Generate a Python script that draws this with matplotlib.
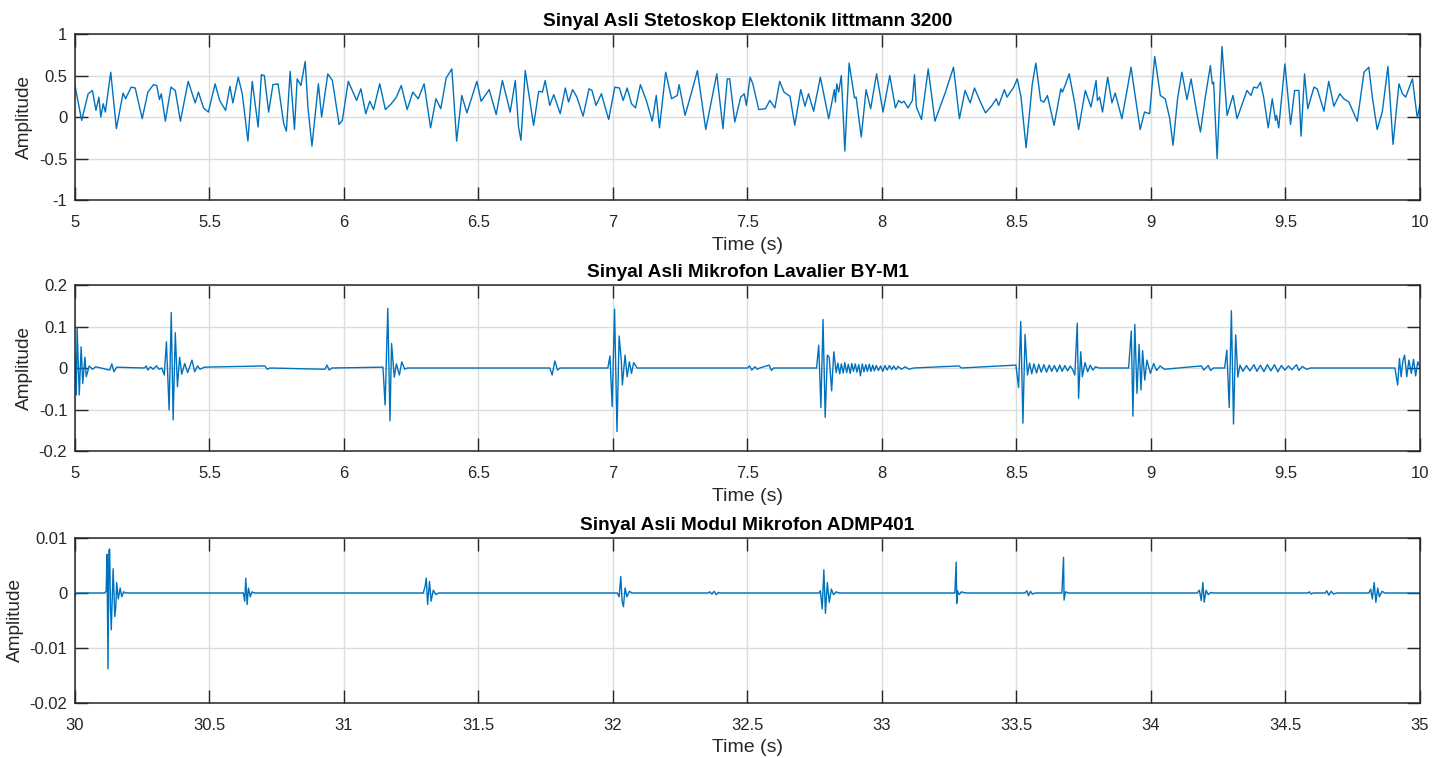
import matplotlib
matplotlib.use('Agg')
import matplotlib.pyplot as plt

# ---- data (time [s], amplitude) ----
# Stetoskop Littmann 3200, split per second
steto_5_6 = [(5.000, 0.38), (5.025, -0.04), (5.049, 0.28), (5.065, 0.32), (5.078, 0.08), (5.089, 0.24),
             (5.096, 0.00), (5.105, 0.16), (5.113, 0.06), (5.133, 0.54), (5.154, -0.14), (5.179, 0.29),
             (5.188, 0.22), (5.209, 0.36), (5.224, 0.35), (5.250, -0.02), (5.271, 0.30), (5.292, 0.39),
             (5.304, 0.38), (5.314, 0.21), (5.321, 0.28), (5.336, -0.05), (5.357, 0.36), (5.373, 0.32),
             (5.392, -0.05), (5.421, 0.43), (5.447, 0.17), (5.459, 0.30), (5.478, 0.11), (5.496, 0.06),
             (5.521, 0.40), (5.538, 0.20), (5.560, 0.08), (5.576, 0.37), (5.587, 0.17), (5.607, 0.48),
             (5.622, 0.28), (5.643, -0.29), (5.659, 0.43), (5.681, -0.12), (5.693, 0.51), (5.704, 0.50),
             (5.720, 0.06), (5.736, 0.39), (5.755, 0.40), (5.776, -0.08), (5.786, -0.17), (5.800, 0.55),
             (5.816, -0.15), (5.826, 0.46), (5.840, 0.38), (5.856, 0.67), (5.866, 0.12), (5.881, -0.35),
             (5.905, 0.40), (5.917, 0.00), (5.940, 0.52), (5.957, 0.44), (5.982, -0.09), (5.994, -0.04)]
steto_6_7 = [(6.016, 0.43), (6.047, 0.20), (6.063, 0.34), (6.081, 0.04), (6.096, 0.19), (6.110, 0.09),
             (6.133, 0.40), (6.154, 0.09), (6.176, 0.16), (6.195, 0.24), (6.213, 0.38), (6.235, 0.09),
             (6.256, 0.30), (6.276, 0.22), (6.298, 0.40), (6.322, -0.13), (6.342, 0.22), (6.360, 0.10),
             (6.380, 0.47), (6.401, 0.58), (6.419, -0.29), (6.438, 0.26), (6.457, 0.05), (6.494, 0.43),
             (6.510, 0.19), (6.540, 0.33), (6.566, 0.03), (6.589, 0.44), (6.618, 0.06), (6.637, 0.44),
             (6.649, -0.12), (6.658, -0.28), (6.674, 0.56), (6.705, -0.10), (6.724, 0.31), (6.738, 0.30),
             (6.748, 0.44), (6.765, 0.14), (6.780, 0.27), (6.804, 0.04), (6.823, 0.35), (6.835, 0.18),
             (6.850, 0.33), (6.866, 0.24), (6.889, 0.01), (6.911, 0.34), (6.922, 0.32), (6.937, 0.14),
             (6.957, 0.28), (6.984, -0.03)]
steto_7_8 = [(7.007, 0.36), (7.024, 0.35), (7.038, 0.20), (7.053, 0.35), (7.069, 0.16), (7.084, 0.11),
             (7.102, 0.39), (7.124, 0.20), (7.146, -0.05), (7.161, 0.26), (7.173, -0.13), (7.196, 0.54),
             (7.218, 0.22), (7.239, 0.26), (7.246, 0.39), (7.268, 0.02), (7.289, 0.26), (7.314, 0.56),
             (7.345, -0.15), (7.370, 0.26), (7.386, 0.52), (7.409, -0.14), (7.425, 0.46), (7.434, 0.46),
             (7.453, -0.06), (7.475, 0.24), (7.488, 0.28), (7.496, 0.14), (7.510, 0.48), (7.520, 0.40),
             (7.542, 0.09), (7.567, 0.10), (7.583, 0.20), (7.602, 0.11), (7.620, 0.43), (7.636, 0.30),
             (7.658, 0.25), (7.676, -0.10), (7.698, 0.33), (7.714, 0.13), (7.727, 0.28), (7.746, 0.07),
             (7.771, 0.48), (7.802, -0.02), (7.823, 0.33), (7.827, 0.18), (7.832, 0.40), (7.839, 0.30),
             (7.849, 0.50), (7.862, -0.41), (7.878, 0.65), (7.898, 0.23), (7.904, 0.24), (7.923, -0.24),
             (7.941, 0.33), (7.958, 0.10), (7.980, 0.52)]
steto_8_9 = [(8.004, 0.06), (8.029, 0.50), (8.050, 0.11), (8.062, 0.20), (8.072, 0.17), (8.082, 0.19),
             (8.097, 0.11), (8.113, 0.20), (8.121, 0.51), (8.128, 0.12), (8.147, -0.03), (8.172, 0.58),
             (8.197, -0.05), (8.218, 0.14), (8.234, 0.28), (8.266, 0.60), (8.288, -0.02), (8.309, 0.32),
             (8.328, 0.17), (8.344, 0.35), (8.365, 0.19), (8.385, 0.05), (8.409, 0.14), (8.425, 0.22),
             (8.434, 0.14), (8.455, 0.33), (8.465, 0.24), (8.490, 0.36), (8.503, 0.46), (8.517, 0.24),
             (8.536, -0.37), (8.559, 0.40), (8.572, 0.65), (8.590, 0.20), (8.602, 0.18), (8.615, 0.26),
             (8.640, -0.10), (8.665, 0.34), (8.671, 0.30), (8.683, 0.40), (8.696, 0.52), (8.717, 0.16),
             (8.731, -0.15), (8.756, 0.32), (8.777, 0.12), (8.796, 0.44), (8.801, 0.20), (8.809, 0.24),
             (8.820, 0.06), (8.839, 0.48), (8.855, 0.17), (8.867, 0.29), (8.892, -0.02), (8.911, 0.32),
             (8.926, 0.60), (8.942, 0.24), (8.960, -0.15), (8.976, 0.06), (8.995, 0.04)]
steto_9_10 = [(9.014, 0.73), (9.035, 0.26), (9.053, 0.22), (9.070, -0.02), (9.082, -0.34), (9.099, 0.22),
              (9.115, 0.54), (9.134, 0.21), (9.149, 0.46), (9.171, 0.04), (9.184, -0.18), (9.202, 0.24),
              (9.221, 0.62), (9.228, 0.40), (9.233, 0.42), (9.246, -0.50), (9.264, 0.85), (9.283, 0.02),
              (9.305, 0.26), (9.320, -0.02), (9.333, 0.10), (9.357, 0.32), (9.372, 0.26), (9.382, 0.36),
              (9.395, 0.35), (9.407, 0.42), (9.419, 0.24), (9.436, -0.13), (9.451, 0.22), (9.463, -0.04),
              (9.467, 0.02), (9.475, -0.13), (9.498, 0.64), (9.519, -0.09), (9.534, 0.32), (9.550, 0.32),
              (9.558, -0.23), (9.571, 0.52), (9.583, 0.10), (9.606, 0.36), (9.618, 0.34), (9.643, 0.07),
              (9.661, 0.43), (9.680, 0.13), (9.702, 0.28), (9.717, 0.22), (9.736, 0.18), (9.755, 0.04),
              (9.767, -0.05), (9.792, 0.54), (9.810, 0.60), (9.823, 0.24), (9.841, -0.15), (9.860, 0.06),
              (9.881, 0.61), (9.900, -0.33), (9.922, 0.40), (9.935, 0.28), (9.947, 0.24), (9.972, 0.46),
              (9.990, -0.01), (10.0, 0.15)]

# Mikrofon Lavalier BY-M1
lavalier_5_7 = [(5.000, 0.035), (5.005, -0.065), (5.008, 0.097), (5.016, -0.065), (5.023, 0.051), (5.029, -0.037),
                (5.037, 0.026), (5.042, -0.021), (5.053, 0.005), (5.065, -0.003), (5.077, 0.003), (5.129, -0.005),
                (5.137, 0.010), (5.145, -0.009), (5.155, 0.002), (5.258, 0.0), (5.265, 0.005), (5.271, -0.005),
                (5.281, 0.003), (5.290, -0.003), (5.303, 0.005), (5.313, -0.003), (5.323, 0.0),
                (5.332, -0.017), (5.340, 0.063), (5.350, -0.101), (5.358, 0.134), (5.365, -0.125), (5.373, 0.085),
                (5.381, -0.045), (5.389, 0.026), (5.397, -0.015), (5.408, 0.011), (5.419, -0.011), (5.435, 0.019),
                (5.445, -0.009), (5.456, 0.005), (5.465, -0.003), (5.481, 0.002),
                (5.706, 0.005), (5.715, -0.003), (5.725, 0.0),
                (5.929, -0.003), (5.937, 0.007), (5.945, -0.005), (5.955, 0.0),
                (6.145, 0.002), (6.153, -0.089), (6.163, 0.144), (6.171, -0.127), (6.177, 0.059), (6.187, -0.022),
                (6.195, 0.010), (6.206, -0.017), (6.215, 0.015), (6.226, -0.003), (6.235, 0.0),
                (6.765, 0.0), (6.774, -0.017), (6.784, 0.017), (6.794, -0.005), (6.803, 0.0),
                (6.981, 0.0), (6.989, 0.029), (6.997, -0.093), (7.006, 0.142), (7.015, -0.153), (7.023, 0.077),
                (7.031, 0.019), (7.035, -0.041), (7.045, 0.031), (7.053, -0.021), (7.061, 0.015), (7.069, -0.013),
                (7.077, 0.013), (7.090, 0.0)]
lavalier_7_9 = [(7.500, 0.0), (7.508, 0.005), (7.516, -0.005), (7.528, 0.003), (7.537, -0.003), (7.545, 0.0),
                (7.581, 0.007), (7.589, -0.006), (7.597, 0.0),
                (7.757, 0.0), (7.765, 0.055), (7.773, -0.095), (7.781, 0.117), (7.789, -0.119), (7.797, 0.031),
                (7.804, 0.026), (7.813, -0.055), (7.821, 0.039), (7.830, -0.011), (7.836, 0.012), (7.843, -0.014),
                (7.849, 0.010), (7.856, -0.012), (7.862, 0.013), (7.869, -0.011), (7.875, 0.009), (7.882, -0.013),
                (7.888, 0.011), (7.894, -0.008), (7.901, 0.010), (7.907, -0.010), (7.914, 0.008), (7.920, -0.019),
                (7.927, 0.010), (7.933, -0.009), (7.940, 0.008), (7.946, -0.008), (7.953, 0.009), (7.959, -0.008),
                (7.966, 0.007), (7.972, -0.007), (7.979, 0.006), (7.987, -0.006), (7.995, 0.005), (8.003, -0.008),
                (8.011, 0.006), (8.019, -0.005), (8.028, 0.006), (8.036, -0.004), (8.044, 0.005), (8.052, -0.004),
                (8.060, 0.004), (8.073, -0.003), (8.086, 0.003), (8.101, -0.003), (8.117, 0.0),
                (8.287, 0.005), (8.295, 0.0),
                (8.498, 0.007), (8.508, -0.047), (8.516, 0.112), (8.524, -0.133), (8.532, 0.081), (8.541, -0.017),
                (8.549, 0.012), (8.557, -0.014), (8.565, 0.010), (8.575, -0.012), (8.583, 0.009), (8.592, -0.010),
                (8.602, 0.008), (8.612, -0.010), (8.622, 0.007), (8.631, -0.008), (8.641, 0.006), (8.651, -0.009),
                (8.661, 0.007), (8.670, -0.008), (8.680, 0.006), (8.690, -0.007), (8.700, 0.005), (8.709, -0.004),
                (8.717, -0.017), (8.726, 0.108), (8.731, -0.073), (8.739, 0.039), (8.745, -0.021), (8.755, 0.013),
                (8.765, -0.009), (8.774, 0.007), (8.784, -0.005), (8.794, 0.003), (8.807, 0.0),
                (8.917, 0.0), (8.927, 0.089), (8.933, -0.116), (8.940, 0.105), (8.948, -0.061), (8.956, 0.057),
                (8.963, -0.053), (8.969, 0.042), (8.977, -0.029), (8.985, 0.019), (8.998, -0.013)]
lavalier_9_10 = [(9.010, 0.011), (9.021, -0.006), (9.034, 0.005), (9.050, -0.003),
                 (9.188, 0.005), (9.196, -0.005), (9.213, 0.006), (9.222, -0.006), (9.232, 0.0),
                 (9.274, 0.0), (9.282, 0.043), (9.291, -0.095), (9.299, 0.138), (9.307, -0.135), (9.315, 0.080),
                 (9.323, -0.022), (9.331, 0.007), (9.342, -0.008), (9.355, 0.006), (9.368, -0.007), (9.383, 0.008),
                 (9.394, -0.008), (9.407, 0.007), (9.420, -0.009), (9.433, 0.008), (9.446, -0.007), (9.459, 0.008),
                 (9.472, -0.009), (9.485, 0.006), (9.498, -0.005), (9.511, 0.005), (9.524, -0.004), (9.541, 0.008),
                 (9.550, -0.006), (9.563, 0.004), (9.578, -0.003), (9.594, 0.0),
                 (9.907, 0.0), (9.917, -0.041), (9.924, 0.023), (9.930, -0.021), (9.937, 0.019), (9.943, 0.031),
                 (9.951, -0.021), (9.959, 0.019), (9.968, -0.013), (9.976, 0.021), (9.984, -0.019), (9.992, 0.015),
                 (10.0, 0.002)]

# Modul Mikrofon ADMP401
admp_30_32 = [(30.000, -0.0005), (30.005, 0.0), (30.110, 0.0), (30.116, 0.0003), (30.119, 0.0070), (30.123, -0.0138),
              (30.126, 0.0077), (30.129, 0.0080), (30.132, -0.0026), (30.135, -0.0067), (30.142, 0.0044),
              (30.148, -0.0043), (30.152, -0.0025), (30.155, 0.0019), (30.161, -0.0011), (30.168, 0.0009),
              (30.174, -0.0007), (30.181, 0.0002), (30.190, 0.0),
              (30.626, 0.0), (30.631, -0.0015), (30.635, 0.0027), (30.640, -0.0021), (30.645, 0.0009),
              (30.652, -0.0007), (30.658, 0.0002), (30.668, 0.0),
              (31.295, 0.0), (31.302, 0.0013), (31.306, 0.0027), (31.311, -0.0021), (31.318, 0.0021),
              (31.324, -0.0015), (31.332, 0.0005), (31.342, -0.0003), (31.352, 0.0)]
admp_32_34 = [(32.016, 0.0), (32.023, -0.0007), (32.029, 0.0030), (32.034, -0.0015), (32.039, -0.0025),
              (32.045, 0.0009), (32.052, -0.0007), (32.061, 0.0003), (32.071, 0.0),
              (32.352, 0.0), (32.360, 0.0002), (32.368, -0.0002), (32.376, 0.0003), (32.384, -0.0003),
              (32.392, 0.0001), (32.400, 0.0),
              (32.765, 0.0), (32.771, 0.0004), (32.778, -0.0029), (32.784, 0.0042), (32.790, -0.0037),
              (32.797, 0.0019), (32.804, -0.0017), (32.812, 0.0007), (32.820, -0.0003), (32.830, 0.0002), (32.841, 0.0),
              (33.271, 0.0), (33.276, 0.0056), (33.278, -0.0019), (33.281, 0.0004), (33.287, -0.0003),
              (33.295, 0.0002), (33.312, 0.0),
              (33.531, 0.0), (33.539, 0.0004), (33.545, -0.0005), (33.552, 0.0003), (33.560, -0.0002), (33.570, 0.0),
              (33.669, 0.0), (33.675, 0.0065), (33.677, -0.0013), (33.682, 0.0002), (33.693, 0.0)]
admp_34_35 = [(34.172, 0.0), (34.180, 0.0005), (34.187, -0.0014), (34.193, 0.0019), (34.198, -0.0017),
              (34.205, 0.0005), (34.213, -0.0003), (34.222, 0.0001), (34.232, 0.0),
              (34.583, 0.0), (34.589, 0.0002), (34.596, -0.0002), (34.602, 0.0),
              (34.648, 0.0), (34.654, 0.0004), (34.661, -0.0004), (34.670, 0.0003), (34.680, -0.0002), (34.690, 0.0),
              (34.810, 0.0), (34.817, 0.0007), (34.823, -0.0011), (34.830, 0.0019), (34.836, -0.0017),
              (34.843, 0.0009), (34.849, -0.0007), (34.859, 0.0003), (34.870, 0.0), (35.0, 0.0)]

titles = ['Sinyal Asli Stetoskop Elektonik littmann 3200',
          'Sinyal Asli Mikrofon Lavalier BY-M1',
          'Sinyal Asli Modul Mikrofon ADMP401']
xticks_top = [5, 5.5, 6, 6.5, 7, 7.5, 8, 8.5, 9, 9.5, 10]
xticks_bottom = [30, 30.5, 31, 31.5, 32, 32.5, 33, 33.5, 34, 34.5, 35]
yticks_steto = [-1, -0.5, 0, 0.5, 1]
yticks_lavalier = [-0.2, -0.1, 0, 0.1, 0.2]
yticks_admp = [-0.02, -0.01, 0, 0.01]

# ---- styling (matlab look) ----
plt.rcParams['font.family'] = ['Liberation Sans', 'DejaVu Sans']
plt.rcParams['axes.unicode_minus'] = False
line_color = '#0072BD'
ax_color = '#262626'


def unzip(*segments):
    pts = [p for seg in segments for p in seg]
    return [p[0] for p in pts], [p[1] for p in pts]


def style_axes(ax, xticks, yticks, title):
    ax.set_xlim(xticks[0], xticks[-1])
    ax.set_ylim(yticks[0], yticks[-1])
    ax.set_xticks(xticks)
    ax.set_yticks(yticks)
    ax.set_xticklabels([f'{v:g}' for v in xticks])
    ax.set_yticklabels([f'{v:g}' for v in yticks])
    ax.grid(True, color='#dcdcdc', linewidth=1.0)
    ax.set_axisbelow(True)
    ax.tick_params(direction='in', length=9.4, width=1.0, top=True, right=True,
                   colors=ax_color, labelsize=12)
    ax.tick_params(axis='x', pad=10.5)
    ax.tick_params(axis='y', pad=5.5)
    for s in ax.spines.values():
        s.set_color(ax_color)
        s.set_linewidth(1.1)
    ax.set_xlabel('Time (s)', fontsize=14, color=ax_color, labelpad=5)
    ax.set_ylabel('Amplitude', fontsize=13.7, color=ax_color, labelpad=4)
    ax.set_title(title, fontsize=13.7, fontweight='bold', color='black', pad=6)


fig = plt.figure(figsize=(14.47, 7.58), dpi=100)

# axes boxes in figure fractions
left, width = 0.0518, 0.9295
ax1 = fig.add_axes([left, 0.7361, width, 0.2190])
ax2 = fig.add_axes([left, 0.4050, width, 0.2190])
ax3 = fig.add_axes([left, 0.0726, width, 0.2177])

t, a = unzip(steto_5_6, steto_6_7, steto_7_8, steto_8_9, steto_9_10)
ax1.plot(t, a, color=line_color, linewidth=1.0)
style_axes(ax1, xticks_top, yticks_steto, titles[0])

t, a = unzip(lavalier_5_7, lavalier_7_9, lavalier_9_10)
ax2.plot(t, a, color=line_color, linewidth=1.0)
style_axes(ax2, xticks_top, yticks_lavalier, titles[1])

t, a = unzip(admp_30_32, admp_32_34, admp_34_35)
ax3.plot(t, a, color=line_color, linewidth=1.0)
style_axes(ax3, xticks_bottom, yticks_admp, titles[2])

plt.savefig('out.png', dpi=100)
